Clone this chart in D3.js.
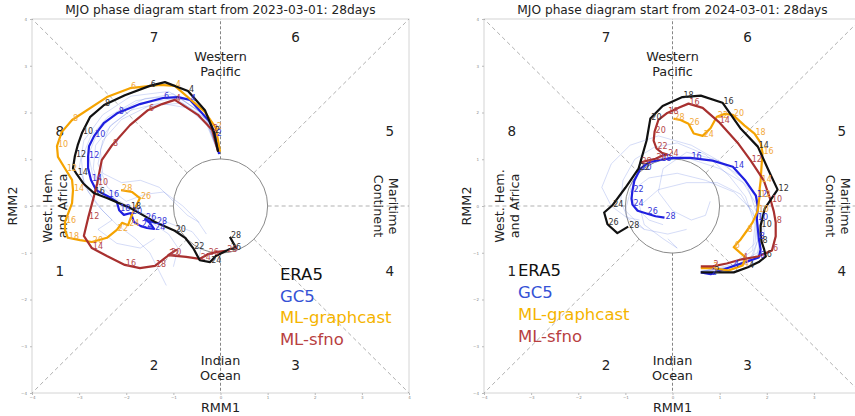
<!DOCTYPE html>
<html>
<head>
<meta charset="utf-8">
<script src="https://cdn.jsdelivr.net/npm/d3@7"></script>
<style>
body { margin: 0; background: #fff; }
svg { display: block; }
text { font-family: "DejaVu Sans", sans-serif; }
</style>
</head>
<body>
<svg id="chart" width="855" height="416"></svg>
<script>
// RMM1/RMM2 per day (days 1..28)
const era5_2023 = [[-0.05,1.16],[-0.14,1.58],[-0.33,2.05],[-0.69,2.46],[-1.18,2.65],[-1.50,2.57],[-2.03,2.37],[-2.47,2.16],[-2.77,1.90],[-2.94,1.56],[-3.03,1.30],[-3.09,1.07],[-3.13,0.81],[-3.05,0.68],[-2.90,0.47],[-2.69,0.28],[-2.41,0.17],[-1.92,-0.04],[-1.39,-0.34],[-0.97,-0.53],[-0.75,-0.68],[-0.58,-0.90],[-0.44,-1.16],[-0.22,-1.20],[-0.10,-1.07],[0.20,-0.92],[0.33,-0.90],[0.20,-0.66]];
const gc5_2023 = [[-0.03,1.11],[-0.10,1.52],[-0.24,1.82],[-0.65,2.27],[-0.90,2.33],[-1.22,2.31],[-1.71,2.18],[-2.18,1.99],[-2.47,1.78],[-2.68,1.50],[-2.79,1.28],[-2.81,1.05],[-2.81,0.81],[-2.75,0.56],[-2.64,0.34],[-2.39,0.21],[-2.20,0.09],[-2.15,-0.09],[-2.05,-0.19],[-1.90,-0.15],[-1.84,-0.34],[-1.69,-0.43],[-1.56,-0.47],[-1.41,-0.49],[-1.50,-0.36],[-1.60,-0.28],[-1.50,-0.32],[-1.37,-0.36]];
const graphcast_2023 = [[-0.01,1.16],[-0.10,1.67],[-0.33,2.01],[-0.97,2.57],[-1.28,2.59],[-1.92,2.52],[-2.41,2.33],[-3.15,1.84],[-3.37,1.58],[-3.47,1.28],[-3.45,1.05],[-3.28,0.77],[-3.15,0.56],[-3.13,0.34],[-3.15,0.06],[-3.30,-0.34],[-3.30,-0.51],[-3.24,-0.68],[-2.98,-0.73],[-2.73,-0.77],[-2.41,-0.68],[-2.20,-0.51],[-2.09,-0.36],[-1.96,-0.41],[-1.90,-0.24],[-1.71,0.17],[-1.88,0.30],[-2.11,0.34]];
const sfno_2023 = [[-0.05,1.16],[-0.18,1.63],[-0.48,1.95],[-0.97,2.27],[-1.24,2.18],[-1.54,2.05],[-1.92,1.73],[-2.30,1.30],[-2.52,0.98],[-2.62,0.47],[-2.69,0.19],[-2.81,-0.26],[-2.90,-0.64],[-2.73,-0.90],[-2.41,-1.07],[-2.03,-1.26],[-1.71,-1.33],[-1.39,-1.28],[-1.20,-1.13],[-1.07,-1.03],[-0.94,-0.94],[-1.11,-1.05],[-0.73,-1.09],[-0.44,-1.13],[-0.33,-1.07],[-0.27,-1.03],[-0.07,-0.98],[0.12,-0.96]];
const ens_2023 = [
  [[-0.05,1.15],[-0.3,1.9],[-0.9,2.35],[-1.6,2.3],[-2.2,2.0],[-2.6,1.6],[-2.8,1.1],[-2.7,0.6],[-2.3,0.2],[-1.8,-0.1],[-1.4,-0.4],[-1.1,-0.6],[-0.9,-0.9],[-1.0,-1.3]],
  [[-0.05,1.15],[-0.2,1.8],[-0.8,2.2],[-1.5,2.15],[-2.1,1.85],[-2.5,1.4],[-2.6,0.9],[-2.4,0.4],[-2.0,0.1],[-1.6,0.25],[-1.2,0.3],[-0.8,0.0],[-0.5,-0.3],[-0.3,-0.6]],
  [[-0.05,1.15],[-0.4,2.0],[-1.1,2.45],[-1.9,2.35],[-2.5,1.95],[-2.9,1.4],[-3.0,0.8],[-2.8,0.3],[-2.5,-0.1],[-2.2,-0.4],[-1.8,-0.7],[-1.5,-1.0],[-1.3,-1.4],[-1.15,-1.7]],
  [[-0.05,1.15],[-0.25,1.7],[-0.7,2.1],[-1.3,2.2],[-1.9,2.05],[-2.35,1.7],[-2.55,1.2],[-2.5,0.7],[-2.1,0.5],[-1.7,0.55],[-1.3,0.4],[-1.0,0.1],[-0.7,-0.2],[-0.45,-0.35]],
  [[-0.05,1.15],[-0.35,1.95],[-1.0,2.4],[-1.8,2.25],[-2.4,1.9],[-2.75,1.5],[-2.95,1.0],[-2.9,0.45],[-2.6,0.0],[-2.3,-0.3],[-2.6,-0.5],[-2.2,-0.8],[-1.7,-0.9],[-1.4,-0.7]],
  [[-0.05,1.15],[-0.3,1.85],[-0.95,2.3],[-1.7,2.2],[-2.3,1.75],[-2.65,1.3],[-2.7,0.8],[-2.5,0.25],[-2.0,-0.05],[-1.5,-0.2],[-1.0,-0.4],[-0.6,-0.55],[-0.4,-0.8],[-0.45,-1.1]]
];

const era5_2024 = [[0.60,-1.42],[0.87,-1.42],[1.30,-1.42],[1.60,-1.31],[1.83,-1.20],[1.98,-1.08],[1.94,-0.91],[1.89,-0.76],[1.87,-0.59],[1.87,-0.42],[1.96,-0.05],[2.23,0.35],[2.04,0.76],[1.81,1.27],[1.45,1.65],[1.06,2.21],[0.60,2.36],[0.21,2.33],[-0.21,2.14],[-0.47,1.87],[-0.55,1.40],[-0.72,0.80],[-1.00,0.39],[-1.28,0.01],[-1.45,-0.14],[-1.38,-0.39],[-1.17,-0.58],[-0.94,-0.44]];
const gc5_2024 = [[0.60,-1.42],[0.81,-1.46],[1.02,-1.38],[1.28,-1.29],[1.55,-1.20],[1.83,-1.10],[1.87,-0.93],[1.83,-0.69],[1.81,-0.48],[1.79,-0.27],[1.81,-0.01],[1.77,0.22],[1.55,0.54],[1.28,0.84],[0.85,0.97],[0.38,1.03],[0.02,1.03],[-0.26,0.99],[-0.51,0.93],[-0.68,0.80],[-0.81,0.54],[-0.85,0.33],[-0.87,0.16],[-0.85,0.03],[-0.74,-0.10],[-0.55,-0.16],[-0.36,-0.22],[-0.17,-0.25]];
const graphcast_2024 = [[0.60,-1.33],[0.85,-1.33],[1.19,-1.38],[1.49,-1.27],[1.55,-1.10],[1.30,-0.88],[1.45,-0.71],[1.57,-0.54],[1.70,-0.35],[1.81,-0.10],[1.83,0.07],[1.85,0.22],[1.85,0.37],[1.87,0.54],[1.89,0.86],[1.91,1.14],[1.87,1.35],[1.74,1.55],[1.53,1.72],[1.28,1.95],[1.11,1.97],[0.94,1.91],[0.81,1.67],[0.64,1.50],[0.45,1.55],[0.34,1.76],[0.17,1.84],[0.02,1.87]];
const sfno_2024 = [[0.60,-1.29],[0.85,-1.29],[1.15,-1.23],[1.47,-1.14],[1.81,-1.08],[2.11,-0.95],[2.19,-0.65],[2.19,-0.35],[2.15,-0.12],[2.09,0.10],[1.94,0.54],[1.66,0.97],[1.40,1.33],[0.98,1.80],[0.64,2.10],[0.34,2.19],[0.13,2.10],[-0.11,1.99],[-0.30,1.84],[-0.38,1.59],[-0.40,1.40],[-0.34,1.23],[-0.23,1.14],[-0.11,1.10],[-0.21,1.08],[-0.36,1.01],[-0.53,0.97],[-0.68,0.93]];
const ens_2024 = [
  [[0.6,-1.4],[1.3,-1.3],[1.8,-1.0],[1.9,-0.5],[1.8,0.0],[1.5,0.5],[1.0,0.8],[0.4,1.0],[-0.2,1.0],[-0.7,0.8],[-0.9,0.4],[-0.8,0.0],[-0.5,-0.3],[-0.2,-0.4]],
  [[0.6,-1.4],[1.2,-1.35],[1.7,-1.1],[1.85,-0.6],[1.7,-0.1],[1.3,0.3],[0.7,0.55],[0.1,0.7],[-0.5,0.6],[-0.9,0.3],[-1.0,-0.1],[-0.6,-0.5],[-0.1,-0.6],[0.3,-0.5]],
  [[0.6,-1.4],[1.3,-1.25],[1.75,-0.8],[1.8,-0.2],[1.6,0.4],[1.1,0.9],[0.4,1.3],[-0.3,1.5],[-0.9,1.3],[-1.3,0.9],[-1.5,0.4],[-1.3,0.0],[-0.9,-0.3],[-0.6,-0.5]],
  [[0.6,-1.4],[1.25,-1.3],[1.7,-0.95],[1.75,-0.4],[1.55,0.2],[1.2,0.65],[0.7,1.1],[0.1,1.35],[-0.4,1.25],[-0.8,1.0],[-1.05,0.55],[-1.1,0.1],[-0.95,-0.25],[-0.7,-0.3]],
  [[0.6,-1.4],[1.3,-1.3],[1.8,-1.05],[1.95,-0.55],[1.85,0.05],[1.5,0.6],[0.9,1.0],[0.3,1.15],[-0.2,0.8],[-0.3,0.3],[0.0,-0.1],[0.4,-0.3],[0.7,-0.2],[0.8,0.1]],
  [[0.6,-1.4],[1.2,-1.4],[1.65,-1.15],[1.8,-0.75],[1.75,-0.25],[1.45,0.25],[0.95,0.5],[0.3,0.5],[-0.3,0.35],[-0.7,0.0],[-0.6,-0.4],[-0.2,-0.7],[0.1,-0.9],[-0.1,-0.7]]
];

const ticks = [-4, -3, -2, -1, 0, 1, 2, 3, 4];
const phases = ['1', '2', '3', '4', '5', '6', '7', '8'];
const phasePos = [[-3.5,-1.5],[-1.5,-3.5],[1.5,-3.5],[3.5,-1.5],[3.5,1.5],[1.5,3.5],[-1.5,3.5],[-3.5,1.5]];
const legendNames = ['ERA5', 'GC5', 'ML-graphcast', 'ML-sfno'];

const lineColors = {era5: '#111111', gc5: '#1f1fe0', graphcast: '#f5a300', sfno: '#a8302f'};
const labelColors = {era5: '#333333', gc5: '#3535d8', graphcast: '#f2a93b', sfno: '#b5474a'};
const legendColors = ['#111111', '#3552d6', '#f5b400', '#b8403f'];

const panels = [
    {title: 'MJO phase diagram start from 2023-03-01: 28days', x0: 32, x1: 409, ylab: 13,
     legend: [1.26, -1.58], series: {era5: era5_2023, gc5: gc5_2023, graphcast: graphcast_2023, sfno: sfno_2023}, ens: ens_2023},
    {title: 'MJO phase diagram start from 2024-03-01: 28days', x0: 484, x1: 861, ylab: 467,
     legend: [-3.28, -1.50], series: {era5: era5_2024, gc5: gc5_2024, graphcast: graphcast_2024, sfno: sfno_2024}, ens: ens_2024}
];

const svg = d3.select('#chart');

function drawPanel(p) {
    const g = svg.append('g');
    const x = d3.scaleLinear().domain([-4, 4]).range([p.x0, p.x1]);
    const y = d3.scaleLinear().domain([-4, 4]).range([393, 19]);
    const line = d3.line().x(d => x(d[0])).y(d => y(d[1]));

    // frame + tiny ticks
    g.append('rect')
        .attr('x', x(-4)).attr('y', y(4))
        .attr('width', x(4) - x(-4)).attr('height', y(-4) - y(4))
        .attr('fill', 'none').attr('stroke', '#d4d4d4').attr('stroke-width', 1);

    g.append('g')
        .attr('transform', `translate(0, ${y(-4)})`)
        .call(d3.axisBottom(x).tickValues(ticks).tickSize(2).tickFormat(d3.format('d')))
        .call(a => a.select('.domain').remove())
        .call(a => a.selectAll('line').attr('stroke', '#bbb'))
        .call(a => a.selectAll('text').attr('font-size', 4).attr('fill', '#888').attr('dy', '0.3em'));

    g.append('g')
        .attr('transform', `translate(${x(-4)}, 0)`)
        .call(d3.axisLeft(y).tickValues(ticks).tickSize(2).tickFormat(d3.format('d')))
        .call(a => a.select('.domain').remove())
        .call(a => a.selectAll('line').attr('stroke', '#bbb'))
        .call(a => a.selectAll('text').attr('font-size', 4).attr('fill', '#888'));

    // phase separators
    const r = Math.SQRT1_2;
    const seps = [
        [[r, r], [4, 4]], [[-r, -r], [-4, -4]], [[-r, r], [-4, 4]], [[r, -r], [4, -4]],
        [[1, 0], [4, 0]], [[-1, 0], [-4, 0]]
    ];
    g.selectAll('.sep')
        .data(seps)
        .join('path')
        .attr('d', line)
        .attr('stroke', '#a8a8a8').attr('stroke-width', 0.9)
        .attr('stroke-dasharray', '4,3').attr('fill', 'none');
    g.selectAll('.vsep')
        .data([[[0, 1], [0, 4]], [[0, -1], [0, -4]]])
        .join('path')
        .attr('d', line)
        .attr('stroke', '#777').attr('stroke-width', 0.9)
        .attr('stroke-dasharray', '3,2').attr('fill', 'none');

    g.append('circle')
        .attr('cx', x(0)).attr('cy', y(0))
        .attr('r', x(1) - x(0))
        .attr('fill', 'none').attr('stroke', '#8a8a8a').attr('stroke-width', 1);

    // phase numbers
    g.selectAll('.phase')
        .data(phases)
        .join('text')
        .attr('x', (d, i) => x(phasePos[i][0]))
        .attr('y', (d, i) => y(phasePos[i][1]))
        .attr('font-size', 13.5).attr('fill', '#222')
        .text(d => d);

    // region names
    const region = (lines, cx, cy, rot) => {
        const t = g.append('text')
            .attr('transform', `translate(${cx},${cy}) rotate(${rot})`)
            .attr('text-anchor', 'middle').attr('font-size', 12.8).attr('fill', '#222');
        lines.forEach((s, i) => t.append('tspan').attr('x', 0).attr('dy', i ? 15 : 0).text(s));
    };
    region(['Western', 'Pacific'], x(0), y(3.1), 0);
    region(['Indian', 'Ocean'], x(0), y(-3.4), 0);
    region(['West. Hem.', 'and Africa'], x(-3.57), y(0), -90);
    region(['Maritime', 'Continent'], x(3.58), y(0), 90);

    // ensemble members
    g.append('g')
        .selectAll('path')
        .data(p.ens)
        .join('path')
        .attr('d', line)
        .attr('fill', 'none')
        .attr('stroke', '#5c74de').attr('stroke-opacity', 0.32).attr('stroke-width', 0.8);

    const order = ['gc5', 'graphcast', 'sfno', 'era5'];
    order.forEach(k => {
        g.append('path')
            .datum(p.series[k])
            .attr('d', line)
            .attr('fill', 'none')
            .attr('stroke', lineColors[k])
            .attr('stroke-width', 2.2)
            .attr('stroke-linejoin', 'round');
    });
    order.forEach(k => {
        g.append('g')
            .selectAll('text')
            .data(p.series[k].map((d, i) => ({d, day: i + 1})).filter(o => o.day % 2 === 0))
            .join('text')
            .attr('x', o => x(o.d[0]) + 1)
            .attr('y', o => y(o.d[1]) + 1)
            .attr('font-size', 8)
            .attr('fill', labelColors[k])
            .text(o => o.day);
    });

    // legend
    g.append('g')
        .selectAll('text')
        .data(legendNames)
        .join('text')
        .attr('x', x(p.legend[0]))
        .attr('y', (d, i) => y(p.legend[1]) + i * 21.8)
        .attr('font-family', '"Noto Sans", sans-serif')
        .attr('font-size', 16.5)
        .attr('fill', (d, i) => legendColors[i])
        .text(d => d);

    // titles
    g.append('text')
        .attr('x', x(0)).attr('y', 14)
        .attr('text-anchor', 'middle').attr('font-size', 12.2).attr('fill', '#222')
        .text(p.title);
    g.append('text')
        .attr('x', x(0)).attr('y', 412)
        .attr('text-anchor', 'middle').attr('font-size', 12.8).attr('fill', '#222')
        .text('RMM1');
    g.append('text')
        .attr('transform', `translate(${p.ylab + 4},${y(0)}) rotate(-90)`)
        .attr('text-anchor', 'middle').attr('font-size', 12.8).attr('fill', '#222')
        .text('RMM2');
}

panels.forEach(drawPanel);
</script>
</body>
</html>
